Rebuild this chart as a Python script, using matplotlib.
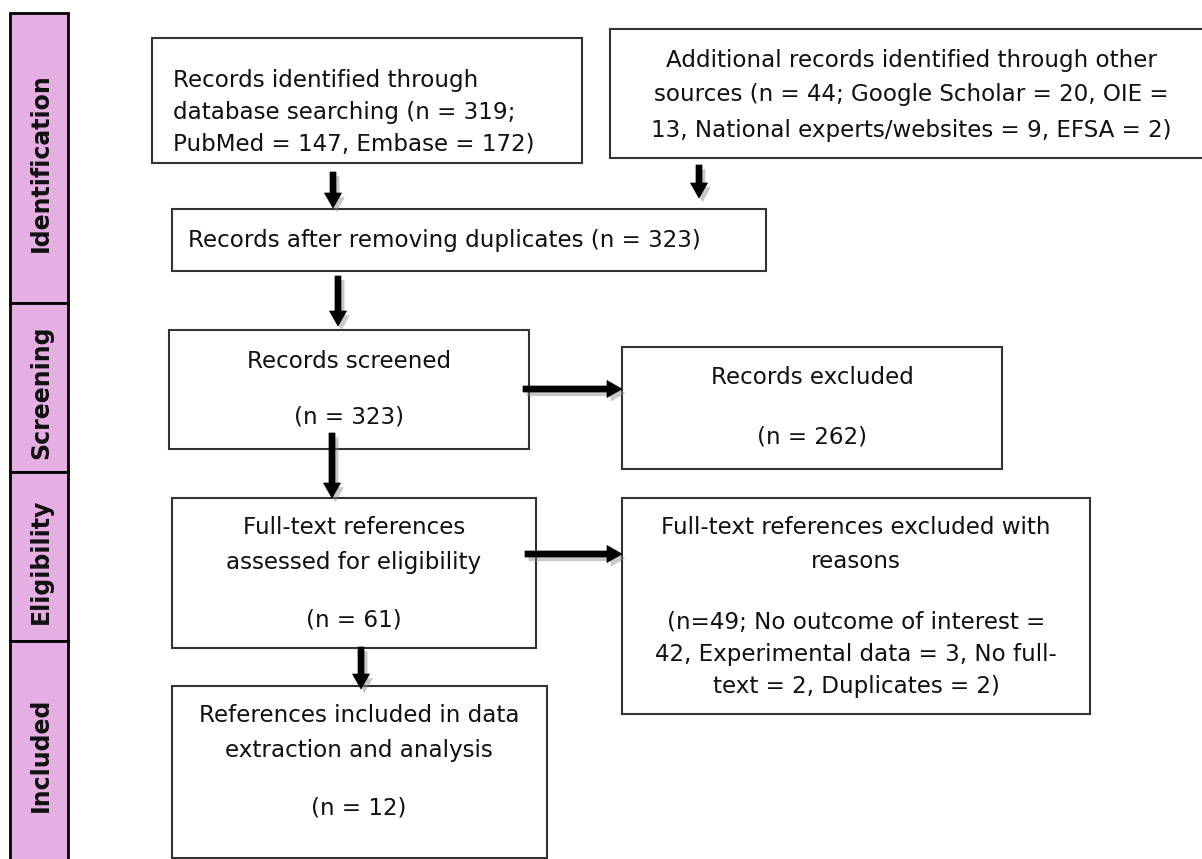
import matplotlib
matplotlib.use("Agg")
import matplotlib.pyplot as plt
from matplotlib.patches import Rectangle, FancyArrow
import matplotlib.patheffects as pe

# ---------------- data ----------------
stage_labels = ["Identification", "Screening", "Eligibility", "Included"]

db_total, db_pubmed, db_embase = 319, 147, 172
other_total, other_scholar, other_oie, other_experts, other_efsa = 44, 20, 13, 9, 2
after_duplicates = 323
screened = 323
screened_excluded = 262
fulltext_assessed = 61
fulltext_excluded = 49
excl_no_outcome, excl_experimental, excl_no_fulltext, excl_duplicates = 42, 3, 2, 2
included = 12

box_texts = {
    "db": ["Records identified through",
           f"database searching (n = {db_total};",
           f"PubMed = {db_pubmed}, Embase = {db_embase})"],
    "other": ["Additional records identified through other",
              f"sources (n = {other_total}; Google Scholar = {other_scholar}, OIE =",
              f"{other_oie}, National experts/websites = {other_experts}, EFSA = {other_efsa})"],
    "dup": [f"Records after removing duplicates (n = {after_duplicates})"],
    "screen": ["Records screened", f"(n = {screened})"],
    "screen_ex": ["Records excluded", f"(n = {screened_excluded})"],
    "full": ["Full-text references", "assessed for eligibility", f"(n = {fulltext_assessed})"],
    "full_ex": ["Full-text references excluded with", "reasons",
                f"(n={fulltext_excluded}; No outcome of interest =",
                f"{excl_no_outcome}, Experimental data = {excl_experimental}, No full-",
                f"text = {excl_no_fulltext}, Duplicates = {excl_duplicates})"],
    "incl": ["References included in data", "extraction and analysis", f"(n = {included})"],
}

# ---------------- layout (pixels, y downward) ----------------
W, H = 1202, 859
stage_edges = [13, 303, 472, 641, 875]
stage_x0, stage_x1 = 10, 68
stage_fill = "#E6AFE3"

boxes = {  # x0, y0, x1, y1
    "db": (152, 38, 582, 163),
    "other": (610, 29, 1215, 158),
    "dup": (172, 209, 766, 271),
    "screen": (169, 330, 529, 449),
    "screen_ex": (622, 347, 1002, 469),
    "full": (172, 498, 536, 648),
    "full_ex": (622, 498, 1090, 714),
    "incl": (172, 686, 547, 858),
}
# text placement: (x, ha, [y centres])
text_pos = {
    "db": (173, "left", [80, 112, 144]),
    "other": (911, "center", [60, 95, 130]),
    "dup": (188, "left", [241]),
    "screen": (349, "center", [362, 417]),
    "screen_ex": (812, "center", [377, 437]),
    "full": (354, "center", [527, 562, 620]),
    "full_ex": (856, "center", [527, 562, 622, 654, 686]),
    "incl": (359, "center", [715, 750, 808]),
}
arrows = [  # (x0, y0, x1, y1)
    (333, 172, 333, 208),
    (699, 165, 699, 198),
    (338, 276, 338, 326),
    (332, 433, 332, 498),
    (361, 647, 361, 689),
    (523, 389, 622, 389),
    (525, 554, 622, 554),
]

# ---------------- drawing ----------------
fig = plt.figure(figsize=(W / 100, H / 100), dpi=100)
ax = fig.add_axes([0, 0, 1, 1])
ax.set_xlim(0, W)
ax.set_ylim(H, 0)
ax.axis("off")

body_font = dict(family=["DejaVu Sans"], fontsize=16.6, color="#111111")

# stage bar
for i, lab in enumerate(stage_labels):
    y0, y1 = stage_edges[i], stage_edges[i + 1]
    ax.add_patch(Rectangle((stage_x0, y0), stage_x1 - stage_x0, y1 - y0,
                           facecolor=stage_fill, edgecolor="black", lw=2, zorder=2))
    yc = (y0 + min(y1, H)) / 2
    ax.text((stage_x0 + stage_x1) / 2 + 2, yc + 5, lab, rotation=90, ha="center", va="center",
            fontsize=17, fontweight="bold", family=["DejaVu Sans"], color="#111111", zorder=3)

# boxes and text
for key, (x0, y0, x1, y1) in boxes.items():
    ax.add_patch(Rectangle((x0, y0), x1 - x0, y1 - y0, facecolor="white",
                           edgecolor="#333333", lw=1.5, zorder=2))
    tx, ha, ys = text_pos[key]
    for line, yy in zip(box_texts[key], ys):
        ax.text(tx, yy, line, ha=ha, va="center", zorder=3, **body_font)

# arrows
shadow = [pe.SimplePatchShadow(offset=(2.5, -3), shadow_rgbFace="#888888", alpha=0.45), pe.Normal()]
for x0, y0, x1, y1 in arrows:
    dx, dy = x1 - x0, y1 - y0
    a = FancyArrow(x0, y0, dx, dy, width=6, head_width=17, head_length=15,
                   length_includes_head=True, facecolor="black", edgecolor="black", lw=0.5, zorder=4)
    a.set_path_effects(shadow)
    ax.add_patch(a)

fig.savefig("out.png", dpi=100)
